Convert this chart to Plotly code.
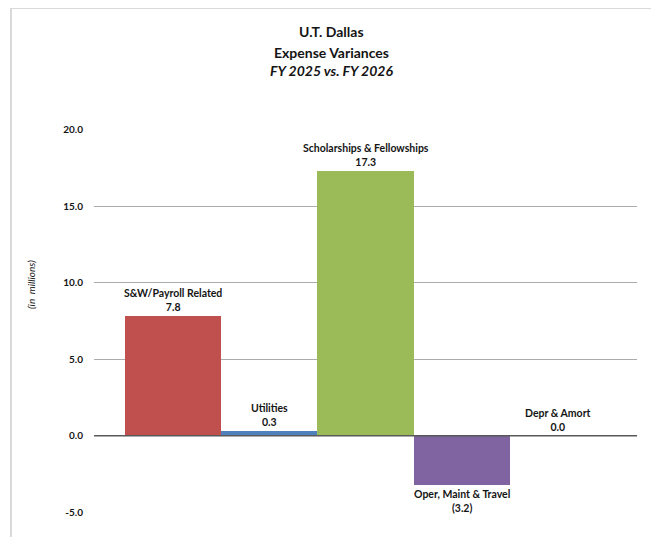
import plotly.graph_objects as go

categories = ["S&W/Payroll Related", "Utilities", "Scholarships & Fellowships",
              "Oper, Maint & Travel", "Depr & Amort"]
values = [7.8, 0.3, 17.3, -3.2, 0.0]
value_labels = ["7.8", "0.3", "17.3", "(3.2)", "0.0"]
bar_colors = ["#C0504D", "#4F81BD", "#9BBB59", "#8064A2", "#4BACC6"]
y_ticks = [-5, 0, 5, 10, 15, 20]
y_tick_labels = ["-5.0", "0.0", "5.0", "10.0", "15.0", "20.0"]

# page has an 8px body margin; lay out in screen pixels and compensate
OFF = 8
SW, SH = 659, 537
W, H = SW - OFF, SH - OFF
# plot area in screen pixels
PX0, PX1, PY0, PY1 = 94, 637, 129, 513
L, R, T, B = PX0 - OFF, SW - PX1, PY0 - OFF, SH - PY1
pw, ph = PX1 - PX0, PY1 - PY0


def px_x(px):
    return (px - PX0) / pw


def px_y(py):
    return (PY1 - py) / ph


FONT = "Lato, 'Open Sans', sans-serif"

fig = go.Figure()
fig.add_trace(go.Bar(
    x=categories, y=values, marker=dict(color=bar_colors, line=dict(width=0)),
    width=1.0, hoverinfo="skip", showlegend=False,
))

annotations = []
for c, v, lab in zip(categories, values, value_labels):
    neg = v < 0
    annotations.append(dict(
        x=c, y=v, xref="x", yref="y",
        text=f"<b>{c}<br>{lab}</b>", showarrow=False,
        yanchor="top" if neg else "bottom",
        yshift=-1 if neg else 1,
        font=dict(family=FONT, size=10.5, color="#141414"),
    ))

title_lines = ["<b>U.T. Dallas</b>", "<b>Expense Variances</b>", "<b><i>FY 2025 vs. FY 2026</i></b>"]
for t, py in zip(title_lines, [32, 52, 71]):
    annotations.append(dict(
        x=px_x(331), y=px_y(py), xref="paper", yref="paper",
        text=t, showarrow=False, xanchor="center", yanchor="middle",
        font=dict(family=FONT, size=14, color="#141414"),
    ))

annotations.append(dict(
    x=px_x(31), y=px_y(285), xref="paper", yref="paper",
    text="<i>(in  millions)</i>", showarrow=False, textangle=-90,
    xanchor="center", yanchor="middle",
    font=dict(family=FONT, size=10, color="#141414"),
))

shapes = [
    dict(type="line", xref="paper", yref="paper",
         x0=px_x(11), x1=px_x(SW + 5), y0=px_y(8), y1=px_y(8),
         line=dict(color="#d9d9d9", width=2)),
    dict(type="line", xref="paper", yref="paper",
         x0=px_x(11), x1=px_x(11), y0=px_y(8), y1=px_y(SH + 5),
         line=dict(color="#d9d9d9", width=2)),
    dict(type="line", xref="paper", yref="y",
         x0=0, x1=1, y0=0, y1=0,
         line=dict(color="#595959", width=1.5)),
]

fig.update_layout(
    width=W, height=H,
    margin=dict(l=L, r=R, t=T, b=B, pad=0),
    paper_bgcolor="white", plot_bgcolor="white",
    bargap=0,
    annotations=annotations, shapes=shapes,
    xaxis=dict(type="category", range=[-0.823, 4.823], showticklabels=False,
               showgrid=False, zeroline=False, showline=False, ticks=""),
    yaxis=dict(range=[-5.04, 20.04], tickvals=y_ticks, ticktext=y_tick_labels,
               showgrid=True, gridcolor="#ababab", gridwidth=1,
               zeroline=False, showline=False, ticks="",
               ticklabelstandoff=10,
               tickfont=dict(family=FONT, size=10, color="#141414", weight="bold")),
)

fig.write_html("out.html")
